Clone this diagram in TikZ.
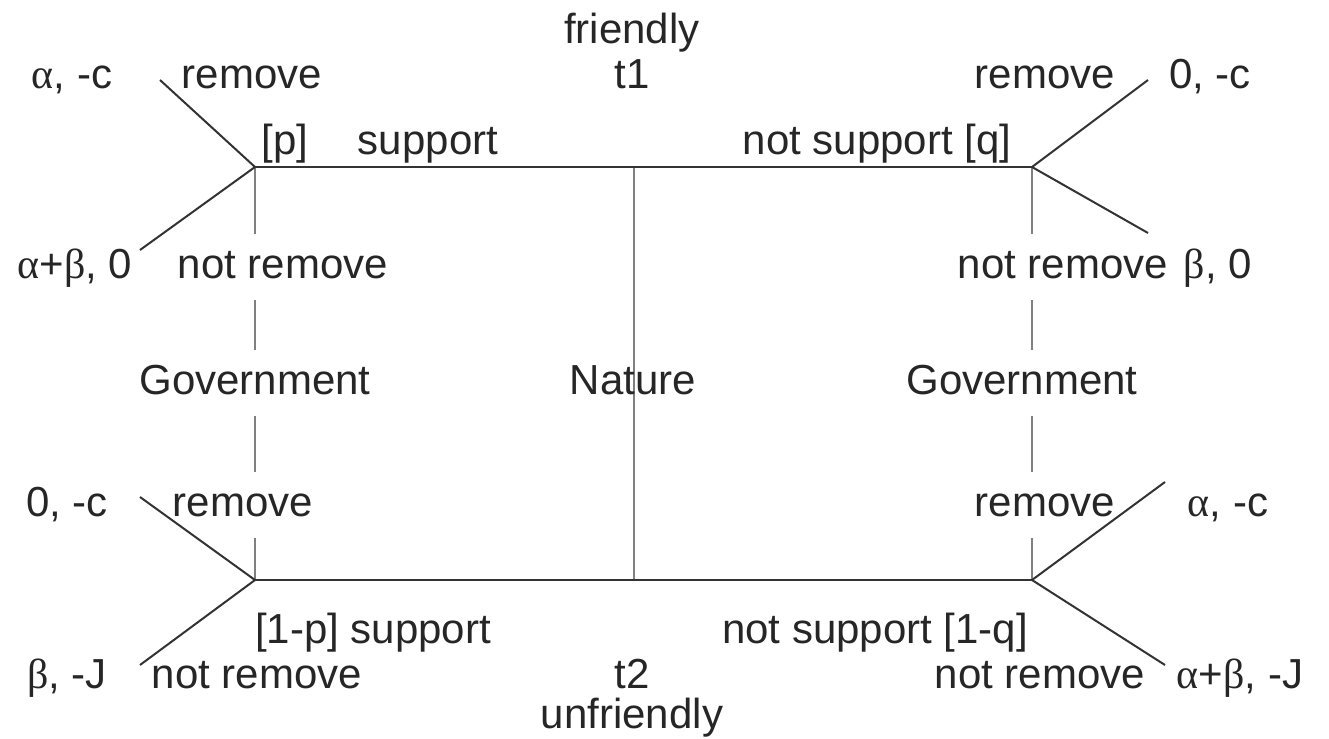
\documentclass[tikz,border=0pt]{standalone}
\usepackage{fontspec}
\setmainfont{Liberation Sans}
\newfontfamily\gr{Liberation Serif}
\newcommand{\al}{{\gr α}}
\newcommand{\be}{{\gr β}}
\begin{document}
\begin{tikzpicture}[x=0.5pt,y=-0.5pt,
  txt/.style={font=\fontsize{21}{24}\selectfont, inner sep=0pt, text=black!85, text height=15pt, text depth=4pt},
  cover/.style={txt, fill=white, inner xsep=2pt, minimum height=33pt},
  branch/.style={draw=black!80, line width=1pt},
  chance/.style={draw=black!50, line width=1.2pt}]
\useasboundingbox (0,0) rectangle (1329,739);
% junctions
\coordinate (L1) at (255,167);
\coordinate (L2) at (255,580);
\coordinate (C1) at (634,167);
\coordinate (C2) at (634,580);
\coordinate (R1) at (1032,167);
\coordinate (R2) at (1032,580);
\coordinate (a1) at (160,80);
\coordinate (a2) at (140,250);
\coordinate (a3) at (140,497);
\coordinate (a4) at (140,665);
\coordinate (b1) at (1148,80);
\coordinate (b2) at (1148,233);
\coordinate (b3) at (1165,482);
\coordinate (b4) at (1165,665);
% information-set lines (gray)
\draw[chance] (L1) -- (L2);
\draw[chance] (R1) -- (R2);
\draw[chance] (C1) -- (C2);
% labels covering gray lines
\node[cover] (nrL) at (283,267) {not remove};
\node[cover] (govL) at (255,383) {Government};
\node[cover] (rmL) at (243,505) {remove};
\node[cover] (nrR) at (1063,267) {not remove};
\node[cover] (govR) at (1022,383) {Government};
\node[cover] (rmR) at (1045,505) {remove};
\node[txt] (nat) at (633,383) {Nature};
% branches
\draw[branch] (L1) -- (R1);
\draw[branch] (L2) -- (R2);
\draw[branch] (L1) -- (a1);
\draw[branch] (L1) -- (a2);
\draw[branch] (L2) -- (a3);
\draw[branch] (L2) -- (a4);
\draw[branch] (R1) -- (b1);
\draw[branch] (R1) -- (b2);
\draw[branch] (R2) -- (b3);
\draw[branch] (R2) -- (b4);
% other labels
\node[txt] (fr) at (632,32) {friendly};
\node[txt] (t1) at (632,77) {t1};
\node[txt] (p1) at (72,77) {\al, -c};
\node[txt] (rm1) at (252,77) {remove};
\node[txt] (pp) at (285,143) {[p]};
\node[txt] (sup) at (428,143) {support};
\node[txt] (nsq) at (877,143) {not support [q]};
\node[txt] (rm2) at (1045,77) {remove};
\node[txt] (p2) at (1210,77) {0, -c};
\node[txt] (p3) at (75,267) {\al+\be, 0};
\node[txt] (p4) at (1218,267) {\be, 0};
\node[txt] (p5) at (67,505) {0, -c};
\node[txt] (p6) at (1228,505) {\al, -c};
\node[txt] (sup2) at (373,632) {[1-p] support};
\node[txt] (nsq2) at (875,632) {not support [1-q]};
\node[txt] (p7) at (67,677) {\be, -J};
\node[txt] (nr3) at (257,677) {not remove};
\node[txt] (t2) at (632,677) {t2};
\node[txt] (nr4) at (1040,677) {not remove};
\node[txt] (p8) at (1240,677) {\al+\be, -J};
\node[txt] (unf) at (632,717) {unfriendly};
\end{tikzpicture}
\end{document}
